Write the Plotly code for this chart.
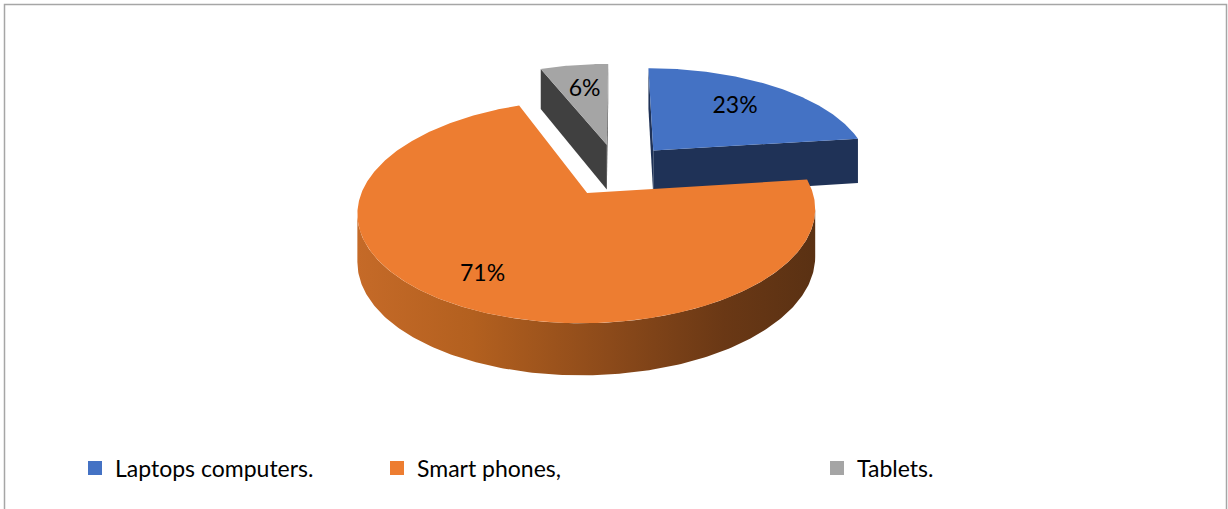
import numpy as np
import plotly.graph_objects as go

# ---- data ----
categories = ["Laptops computers.", "Smart phones,", "Tablets."]
shares = [23, 71, 6]

# ---- styling ----
top_colors = ["#4472C4", "#ED7D31", "#A5A5A5"]
face_colors = ["#1F3257", "#7A4018", "#404040"]
wall_gradients = [
    [[0, "#1F3257"], [1, "#14213A"]],
    [[0, "#C56A28"], [0.25, "#B3601F"], [0.55, "#8C4A1A"], [0.8, "#6A3815"], [1, "#5A3113"]],
    [[0, "#4A4A4A"], [1, "#2E2E2E"]],
]
label_radius = [0.65, 0.78, 0.65]
FONT = "Lato, Carlito, Calibri, sans-serif"

W, H = 1228, 509

# perspective view of the pie plane (u to the right, v toward the viewer)
X0, Y0 = 617.0, 169.5
SX, SY = 217.6, 101.0
K = 0.16          # perspective strength
EXPLODE = 0.26    # slice pull-out, in radius units
CAM = np.array([0.0, 1.0 / K])


def project(u, v):
    w = 1.0 - K * np.asarray(v)
    return X0 + SX * np.asarray(u) / w, Y0 + SY * np.asarray(v) / w


def thickness(v):
    return 46.0 + 5.0 * np.asarray(v)


def unit(theta_deg):
    t = np.radians(theta_deg)
    return np.sin(t), -np.cos(t)


total = float(sum(shares))
bounds = np.concatenate([[0.0], np.cumsum(shares) / total * 360.0])

slices = []
for i, val in enumerate(shares):
    a0, a1 = bounds[i], bounds[i + 1]
    mid = 0.5 * (a0 + a1)
    mu, mv = unit(mid)
    slices.append(dict(i=i, a0=a0, a1=a1, mid=mid, cu=EXPLODE * mu, cv=EXPLODE * mv))

fig = go.Figure()


def add_poly(xs, ys, color=None, gradient=None):
    kw = dict(fillcolor=color) if gradient is None else dict(
        fillgradient=dict(type="horizontal", colorscale=gradient))
    fig.add_trace(go.Scatter(
        x=list(xs) + [xs[0]], y=list(ys) + [ys[0]], mode="lines", fill="toself",
        line=dict(width=0, color=color or "rgba(0,0,0,0)"), hoverinfo="skip",
        showlegend=False, **kw))


def vertical_face(us, vs, color=None, gradient=None):
    xs, ys = project(us, vs)
    yb = ys + thickness(vs)
    add_poly(np.concatenate([xs, xs[::-1]]), np.concatenate([ys, yb[::-1]]), color, gradient)


# back-to-front drawing order
for s in sorted(slices, key=lambda d: d["cv"]):
    i, a0, a1, cu, cv = s["i"], s["a0"], s["a1"], s["cu"], s["cv"]

    # radial cut faces
    for ang, sign in ((a0, -1), (a1, 1)):
        nu, nv = unit(ang + sign * 90)
        if (CAM[0] - cu) * nu + (CAM[1] - cv) * nv > 0:
            du, dv = unit(ang)
            vertical_face(np.array([cu, cu + du]), np.array([cv, cv + dv]), face_colors[i])

    # outer curved wall, only the front-facing part of the rim
    full = np.linspace(0, 360, 3601)
    fu, fv = unit(full)
    fx, _ = project(cu + fu, cv + fv)
    t_right, t_left = full[np.argmax(fx)], full[np.argmin(fx)]
    lo, hi = max(a0, t_right), min(a1, t_left)
    if hi > lo:
        th = np.linspace(lo, hi, 200)
        ru, rv = unit(th)
        vertical_face(cu + ru, cv + rv, face_colors[i], wall_gradients[i])

    # top surface
    th = np.linspace(a0, a1, max(20, int((a1 - a0) * 2)))
    ru, rv = unit(th)
    xs, ys = project(np.concatenate([[cu], cu + ru]), np.concatenate([[cv], cv + rv]))
    add_poly(xs, ys, top_colors[i])

# value labels on the top surfaces
lx, ly, lt = [], [], []
for s in slices:
    mu, mv = unit(s["mid"])
    r = label_radius[s["i"]]
    x, y = project(s["cu"] + r * mu, s["cv"] + r * mv)
    lx.append(float(x))
    ly.append(float(y))
    lt.append(f"{shares[s['i']]}%")
fig.add_trace(go.Scatter(x=lx, y=ly, text=lt, mode="text", hoverinfo="skip",
                         textfont=dict(family=FONT, size=23, color="#000000"),
                         showlegend=False))

# legend entries, each in its own legend box
legend_left = [75, 377, 817]
legend_names = ["legend", "legend2", "legend3"]
for i, name in enumerate(categories):
    fig.add_trace(go.Scatter(x=[None], y=[None], mode="markers", name=name,
                             marker=dict(symbol="square", size=14, color=top_colors[i]),
                             legend=legend_names[i], showlegend=True))

legend_style = dict(orientation="h", yanchor="middle", y=1 - 468 / H, xanchor="left",
                    bgcolor="rgba(0,0,0,0)", borderwidth=0,
                    font=dict(family=FONT, size=23, color="#000000"))
layout_legends = {}
for i, key in enumerate(legend_names):
    layout_legends[key] = dict(x=legend_left[i] / W, **legend_style)

fig.update_layout(
    width=W, height=H,
    margin=dict(l=0, r=0, t=0, b=0),
    paper_bgcolor="#FFFFFF", plot_bgcolor="#FFFFFF",
    xaxis=dict(range=[0, W], visible=False, fixedrange=True),
    yaxis=dict(range=[H, 0], visible=False, fixedrange=True),
    shapes=[dict(type="rect", xref="x", yref="y", x0=4.5, y0=4.5, x1=1226.5, y1=H + 10,
                 line=dict(color="#A6A6A6", width=1.5), fillcolor="rgba(0,0,0,0)", layer="below")],
    **layout_legends,
)

fig.write_html("out.html")
